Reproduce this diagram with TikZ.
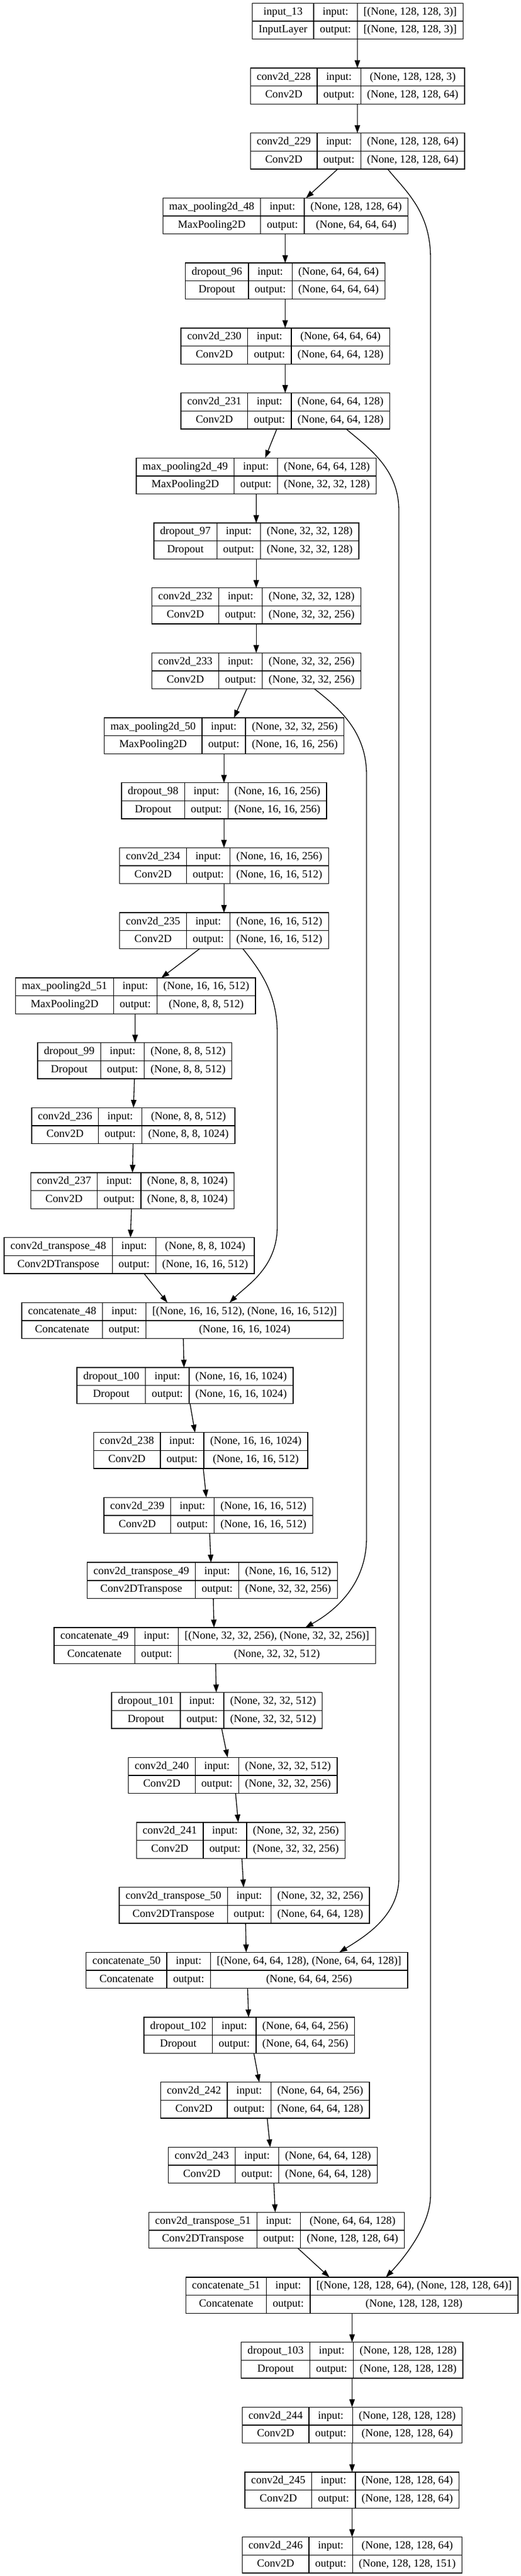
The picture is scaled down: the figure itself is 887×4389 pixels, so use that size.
\documentclass[tikz,border=0pt]{standalone}
\usepackage{fontspec}
\setmainfont{Liberation Serif}
\usetikzlibrary{arrows.meta}
\newlength\gwa \newlength\gwb \newlength\gwc \newlength\gwt \newlength\gtmp \newlength\gtmpb
\newcommand\gvf{\fontsize{14pt}{16pt}\selectfont}
\tikzset{
 gbox/.style={draw, line width=1pt, inner sep=0pt, outer sep=0pt, minimum height=46pt},
 gline/.style={line width=1pt},
 gcell/.style={inner sep=0pt, font=\gvf, text height=10pt, text depth=3pt, anchor=center},
 garrow/.style={line width=1pt, -{Triangle[length=10pt,width=7pt]}},
}
\newcommand\gmeasure[3]{%
  \pgfinterruptpicture
    \normalfont\gvf
    \settowidth\gtmp{#2}\settowidth\gtmpb{#3}%
    \ifdim\gtmpb>\gtmp \gtmp=\gtmpb\fi
    \global#1=\gtmp
  \endpgfinterruptpicture
  \global\advance#1 by 16pt\relax}
\newcommand\layer[7]{%
  \gmeasure\gwa{#4}{#5}%
  \gmeasure\gwb{input:}{output:}%
  \gmeasure\gwc{#6}{#7}%
  \setlength\gwt{\gwa}\addtolength\gwt{\gwb}\addtolength\gwt{\gwc}%
  \expandafter\gdef\csname cx#1\endcsname{#2}%
  \node[gbox, minimum width=\gwt] (#1) at (#2,{36+110.7*#3}) {};
  \draw[gline] (#1.west) -- (#1.east);
  \draw[gline] ([xshift=\gwa]#1.north west) -- ([xshift=\gwa]#1.south west);
  \draw[gline] ([xshift=\gwa+\gwb]#1.north west) -- ([xshift=\gwa+\gwb]#1.south west);
  \node[gcell] (#1-n) at ([xshift=0.5\gwa, yshift=-11.5pt]#1.north west) {#4};
  \node[gcell] (#1-c) at ([xshift=0.5\gwa, yshift=11.5pt]#1.south west) {#5};
  \node[gcell] (#1-i) at ([xshift=\gwa+0.5\gwb, yshift=-11.5pt]#1.north west) {input:};
  \node[gcell] (#1-o) at ([xshift=\gwa+0.5\gwb, yshift=11.5pt]#1.south west) {output:};
  \node[gcell] (#1-vi) at ([xshift=\gwa+\gwb+0.5\gwc, yshift=-11.5pt]#1.north west) {#6};
  \node[gcell] (#1-vo) at ([xshift=\gwa+\gwb+0.5\gwc, yshift=11.5pt]#1.south west) {#7};
}
\newcommand\gsetdx[2]{%
  \expandafter\let\expandafter\gxa\csname cx#1\endcsname
  \pgfmathsetmacro\gdx{(#2-\gxa)*0.75}}
\newcommand\gedge[4]{%
  \gsetdx{#1}{#3}\let\gta\gdx
  \gsetdx{#2}{#4}\let\gtb\gdx
  \draw[garrow] ([xshift=\gta pt]#1.south) -- ([xshift=\gtb pt]#2.north);}
\begin{document}
\begin{tikzpicture}[x=0.75pt,y=-0.75pt]
\fill[white] (0,0) rectangle (887,4389);
\useasboundingbox (0,0) rectangle (887,4389);
\layer{n0}{609}{0}{input\_13}{InputLayer}{[(None, 128, 128, 3)]}{[(None, 128, 128, 3)]}
\layer{n1}{608.7}{1}{conv2d\_228}{Conv2D}{(None, 128, 128, 3)}{(None, 128, 128, 64)}
\layer{n2}{608.7}{2}{conv2d\_229}{Conv2D}{(None, 128, 128, 64)}{(None, 128, 128, 64)}
\layer{n3}{486}{3}{max\_pooling2d\_48}{MaxPooling2D}{(None, 128, 128, 64)}{(None, 64, 64, 64)}
\layer{n4}{485.5}{4}{dropout\_96}{Dropout}{(None, 64, 64, 64)}{(None, 64, 64, 64)}
\layer{n5}{485.8}{5}{conv2d\_230}{Conv2D}{(None, 64, 64, 64)}{(None, 64, 64, 128)}
\layer{n6}{485.8}{6}{conv2d\_231}{Conv2D}{(None, 64, 64, 128)}{(None, 64, 64, 128)}
\layer{n7}{436.2}{7}{max\_pooling2d\_49}{MaxPooling2D}{(None, 64, 64, 128)}{(None, 32, 32, 128)}
\layer{n8}{436.5}{8}{dropout\_97}{Dropout}{(None, 32, 32, 128)}{(None, 32, 32, 128)}
\layer{n9}{436.5}{9}{conv2d\_232}{Conv2D}{(None, 32, 32, 128)}{(None, 32, 32, 256)}
\layer{n10}{436.5}{10}{conv2d\_233}{Conv2D}{(None, 32, 32, 256)}{(None, 32, 32, 256)}
\layer{n11}{381.5}{11}{max\_pooling2d\_50}{MaxPooling2D}{(None, 32, 32, 256)}{(None, 16, 16, 256)}
\layer{n12}{381.5}{12}{dropout\_98}{Dropout}{(None, 16, 16, 256)}{(None, 16, 16, 256)}
\layer{n13}{381.5}{13}{conv2d\_234}{Conv2D}{(None, 16, 16, 256)}{(None, 16, 16, 512)}
\layer{n14}{381.5}{14}{conv2d\_235}{Conv2D}{(None, 16, 16, 512)}{(None, 16, 16, 512)}
\layer{n15}{230.8}{15}{max\_pooling2d\_51}{MaxPooling2D}{(None, 16, 16, 512)}{(None, 8, 8, 512)}
\layer{n16}{229.4}{16}{dropout\_99}{Dropout}{(None, 8, 8, 512)}{(None, 8, 8, 512)}
\layer{n17}{226.9}{17}{conv2d\_236}{Conv2D}{(None, 8, 8, 512)}{(None, 8, 8, 1024)}
\layer{n18}{225.2}{18}{conv2d\_237}{Conv2D}{(None, 8, 8, 1024)}{(None, 8, 8, 1024)}
\layer{n19}{220.1}{19}{conv2d\_transpose\_48}{Conv2DTranspose}{(None, 8, 8, 1024)}{(None, 16, 16, 512)}
\layer{n20}{310.7}{20}{concatenate\_48}{Concatenate}{[(None, 16, 16, 512), (None, 16, 16, 512)]}{(None, 16, 16, 1024)}
\layer{n21}{315}{21}{dropout\_100}{Dropout}{(None, 16, 16, 1024)}{(None, 16, 16, 1024)}
\layer{n22}{341.6}{22}{conv2d\_238}{Conv2D}{(None, 16, 16, 1024)}{(None, 16, 16, 512)}
\layer{n23}{354.6}{23}{conv2d\_239}{Conv2D}{(None, 16, 16, 512)}{(None, 16, 16, 512)}
\layer{n24}{361.4}{24}{conv2d\_transpose\_49}{Conv2DTranspose}{(None, 16, 16, 512)}{(None, 32, 32, 256)}
\layer{n25}{365.7}{25}{concatenate\_49}{Concatenate}{[(None, 32, 32, 256), (None, 32, 32, 256)]}{(None, 32, 32, 512)}
\layer{n26}{369.4}{26}{dropout\_101}{Dropout}{(None, 32, 32, 512)}{(None, 32, 32, 512)}
\layer{n27}{396.3}{27}{conv2d\_240}{Conv2D}{(None, 32, 32, 512)}{(None, 32, 32, 256)}
\layer{n28}{409.9}{28}{conv2d\_241}{Conv2D}{(None, 32, 32, 256)}{(None, 32, 32, 256)}
\layer{n29}{416.1}{29}{conv2d\_transpose\_50}{Conv2DTranspose}{(None, 32, 32, 256)}{(None, 64, 64, 128)}
\layer{n30}{420.3}{30}{concatenate\_50}{Concatenate}{[(None, 64, 64, 128), (None, 64, 64, 128)]}{(None, 64, 64, 256)}
\layer{n31}{424.3}{31}{dropout\_102}{Dropout}{(None, 64, 64, 256)}{(None, 64, 64, 256)}
\layer{n32}{451.2}{32}{conv2d\_242}{Conv2D}{(None, 64, 64, 256)}{(None, 64, 64, 128)}
\layer{n33}{464.5}{33}{conv2d\_243}{Conv2D}{(None, 64, 64, 128)}{(None, 64, 64, 128)}
\layer{n34}{471}{34}{conv2d\_transpose\_51}{Conv2DTranspose}{(None, 64, 64, 128)}{(None, 128, 128, 64)}
\layer{n35}{599.1}{35}{concatenate\_51}{Concatenate}{[(None, 128, 128, 64), (None, 128, 128, 64)]}{(None, 128, 128, 128)}
\layer{n36}{599.4}{36}{dropout\_103}{Dropout}{(None, 128, 128, 128)}{(None, 128, 128, 128)}
\layer{n37}{599.4}{37}{conv2d\_244}{Conv2D}{(None, 128, 128, 128)}{(None, 128, 128, 64)}
\layer{n38}{599.4}{38}{conv2d\_245}{Conv2D}{(None, 128, 128, 64)}{(None, 128, 128, 64)}
\layer{n39}{599.4}{39}{conv2d\_246}{Conv2D}{(None, 128, 128, 64)}{(None, 128, 128, 151)}
% chain edges
\gedge{n0}{n1}{608.4}{608.4}
\gedge{n1}{n2}{608.4}{608.4}
\gedge{n2}{n3}{575}{521}
\gedge{n3}{n4}{485.5}{485.5}
\gedge{n4}{n5}{485.5}{485.5}
\gedge{n5}{n6}{485.5}{485.5}
\gedge{n6}{n7}{471.3}{451.5}
\gedge{n7}{n8}{436.2}{436.2}
\gedge{n8}{n9}{436.2}{436.2}
\gedge{n9}{n10}{436.2}{436.2}
\gedge{n10}{n11}{420.3}{398.3}
\gedge{n11}{n12}{381.3}{381.3}
\gedge{n12}{n13}{381.3}{381.3}
\gedge{n13}{n14}{381.3}{381.3}
\gedge{n14}{n15}{339.9}{274.8}
\gedge{n15}{n16}{230}{230}
\gedge{n16}{n17}{228.9}{227.2}
\gedge{n17}{n18}{226.6}{225.5}
\gedge{n18}{n19}{223.8}{222.1}
\gedge{n19}{n20}{245.3}{285}
\gedge{n20}{n21}{312.1}{313.3}
\gedge{n21}{n22}{323.5}{332}
\gedge{n22}{n23}{346.1}{351.2}
\gedge{n23}{n24}{356.9}{359.2}
\gedge{n24}{n25}{363.1}{364.3}
\gedge{n25}{n26}{367.1}{368.2}
\gedge{n26}{n27}{377.3}{387.5}
\gedge{n27}{n28}{401.1}{405.6}
\gedge{n28}{n29}{411.8}{414.7}
\gedge{n29}{n30}{418.1}{419.2}
\gedge{n30}{n31}{421.5}{423.2}
\gedge{n31}{n32}{432.2}{441.3}
\gedge{n32}{n33}{454.9}{460}
\gedge{n33}{n34}{466.2}{468.5}
\gedge{n34}{n35}{507}{560.8}
\gedge{n35}{n36}{599.4}{599.4}
\gedge{n36}{n37}{599.4}{599.4}
\gedge{n37}{n38}{599.4}{599.4}
\gedge{n38}{n39}{599.4}{599.4}
% skip connections
\gsetdx{n2}{660}\let\gta\gdx \gsetdx{n35}{657.1}\let\gtb\gdx
\draw[garrow] ([xshift=\gta pt]n2.south) .. controls (690,325) and (733,360) .. (733,440)
  -- (733,3740) .. controls (733,3790) and (690,3845) .. ([xshift=\gtb pt]n35.north);
\gsetdx{n6}{589.2}\let\gta\gdx \gsetdx{n30}{577.8}\let\gtb\gdx
\draw[garrow] ([xshift=\gta pt]n6.south) .. controls (630,765) and (679,800) .. (679,870)
  -- (679,3200) .. controls (679,3265) and (620,3300) .. ([xshift=\gtb pt]n30.north);
\gsetdx{n10}{535.3}\let\gta\gdx \gsetdx{n25}{520}\let\gtb\gdx
\draw[garrow] ([xshift=\gta pt]n10.south) .. controls (575,1205) and (624,1245) .. (624,1320)
  -- (624,2620) .. controls (624,2700) and (570,2745) .. ([xshift=\gtb pt]n25.north);
\gsetdx{n14}{413.5}\let\gta\gdx \gsetdx{n20}{390.9}\let\gtb\gdx
\draw[garrow] ([xshift=\gta pt]n14.south) .. controls (440,1650) and (472,1690) .. (472,1760)
  -- (472,2090) .. controls (472,2160) and (420,2190) .. ([xshift=\gtb pt]n20.north);
\end{tikzpicture}
\end{document}
